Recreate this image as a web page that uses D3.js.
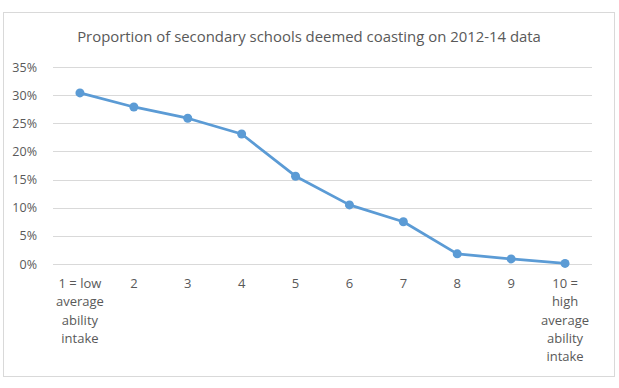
<!DOCTYPE html>
<html>
<head>
<meta charset="utf-8">
<script src="https://cdn.jsdelivr.net/npm/d3@7"></script>
<style>
  body { margin: 0; background: #fff; }
  svg { display: block; font-family: "Open Sans", "Liberation Sans", sans-serif; }
</style>
</head>
<body>
<div id="chart"></div>
<script>
!(function(){
    "use strict"

    var categories = ["1 = low average ability intake", "2", "3", "4", "5", "6", "7", "8", "9", "10 = high average ability intake"]
    var labelLines = [["1 = low", "average", "ability", "intake"], ["2"], ["3"], ["4"], ["5"], ["6"], ["7"], ["8"], ["9"], ["10 =", "high", "average", "ability", "intake"]]
    var values = [0.304, 0.279, 0.259, 0.231, 0.156, 0.105, 0.075, 0.018, 0.009, 0.001]
    var yTicks = [0, 0.05, 0.10, 0.15, 0.20, 0.25, 0.30, 0.35]
    var title = "Proportion of secondary schools deemed coasting on 2012-14 data"

    var width = 619, height = 388
    var margin = {top:67, left:53, bottom:124, right:27}

    var svg = d3.select("#chart").append("svg")
        .attr("width", width).attr("height", height)

    // outer frame
    svg.append("rect")
        .attr("x", 3.5).attr("y", 12.5)
        .attr("width", 611).attr("height", 364)
        .attr("fill", "#fff")
        .attr("stroke", "#d9d9d9")

    svg.append("text")
        .attr("x", 309).attr("y", 42)
        .attr("text-anchor", "middle")
        .attr("font-size", 14.9)
        .attr("fill", "#595959")
        .text(title)

    var x = d3.scaleBand()
        .domain(categories)
        .range([margin.left, width - margin.right])

    var y = d3.scaleLinear()
        .domain([0, 0.35])
        .range([height - margin.bottom, margin.top])

    var grid = svg.append("g")
    grid.selectAll("line").data(yTicks).enter().append("line")
        .attr("x1", margin.left).attr("x2", width - margin.right)
        .attr("y1", function(d){ return Math.round(y(d)) + 0.5 })
        .attr("y2", function(d){ return Math.round(y(d)) + 0.5 })
        .attr("stroke", "#d9d9d9")

    var yAxis = d3.axisLeft(y).tickValues(yTicks).tickFormat(d3.format(".0%")).tickSize(0).tickPadding(6)
    var yG = svg.append("g")
        .attr("transform", "translate(" + (margin.left - 10) + ",0)")
        .call(yAxis)
    yG.select(".domain").remove()
    yG.selectAll("text").attr("fill", "#595959").attr("font-size", 12.5)
        .attr("font-family", "\"Open Sans\", \"Liberation Sans\", sans-serif")

    var xAxis = d3.axisBottom(x).tickSize(0).tickFormat("")
    var xG = svg.append("g")
        .attr("transform", "translate(0," + (height - margin.bottom) + ")")
        .call(xAxis)
    xG.select(".domain").remove()

    var labels = svg.append("g").selectAll("text")
        .data(categories).enter().append("text")
        .attr("x", function(d){ return x(d) + x.bandwidth()/2 })
        .attr("y", height - margin.bottom + 24)
        .attr("text-anchor", "middle")
        .attr("font-size", 13)
        .attr("fill", "#595959")
    labels.each(function(d, i){
        var t = d3.select(this)
        labelLines[i].forEach(function(line, j){
            t.append("tspan")
                .attr("x", x(d) + x.bandwidth()/2)
                .attr("dy", j === 0 ? 0 : 18.3)
                .text(line)
        })
    })

    var line = d3.line()
        .x(function(d, i){ return x(categories[i]) + x.bandwidth()/2 })
        .y(function(d){ return y(d) })

    svg.append("path")
        .datum(values)
        .attr("d", line)
        .attr("fill", "none")
        .attr("stroke", "#5b9bd5")
        .attr("stroke-width", 2.75)
        .attr("stroke-linejoin", "round")

    svg.append("g").selectAll("circle")
        .data(values).enter().append("circle")
        .attr("cx", function(d, i){ return x(categories[i]) + x.bandwidth()/2 })
        .attr("cy", function(d){ return y(d) })
        .attr("r", 4.5)
        .attr("fill", "#5b9bd5")
}());
</script>
</body>
</html>
